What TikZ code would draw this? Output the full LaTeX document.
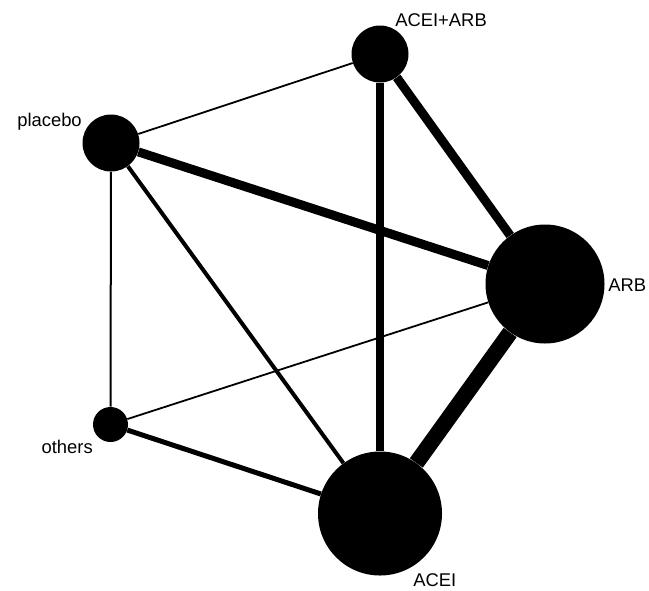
\documentclass[tikz,border=0pt]{standalone}
\usepackage{fontspec}
\setmainfont{Liberation Sans}
\begin{document}
\begin{tikzpicture}[x=0.75pt,y=-0.75pt,
  trt/.style={circle,fill=black,draw=none,inner sep=0pt},
  lbl/.style={inner sep=0pt,font=\fontsize{13.8pt}{16pt}\selectfont},
  link/.style={draw=black,line width=#1*0.75pt}]
\useasboundingbox (0,0) rectangle (649,590);

% treatments, sized by number of patients
\node[trt,minimum size=57pt*0.75] (aa)  at (380,54)  {};
\node[trt,minimum size=57pt*0.75] (pl)  at (111,143) {};
\node[trt,minimum size=119pt*0.75] (arb) at (545,284) {};
\node[trt,minimum size=35pt*0.75] (oth) at (110.5,424.5) {};
\node[trt,minimum size=124pt*0.75] (acei) at (380,513.5) {};

% comparisons, width by number of trials
\draw[link=1.8] (aa) -- (pl);
\draw[link=8]   (aa) -- (acei);
\draw[link=9]   (aa) -- (arb);
\draw[link=9]   (pl) -- (arb);
\draw[link=4]   (pl) -- (acei);
\draw[link=2]   (pl) -- (oth);
\draw[link=1.8] (oth) -- (arb);
\draw[link=5]   (oth) -- (acei);
\draw[link=16]  (arb) -- (acei);

% labels
\node[lbl,anchor=base west] (laa)   at (395,26)  {ACEI+ARB};
\node[lbl,anchor=base east] (lpl)   at (82,126)  {placebo};
\node[lbl,anchor=base west] (larb)  at (608,291) {ARB};
\node[lbl,anchor=base east] (loth)  at (93,453)  {others};
\node[lbl,anchor=base west] (lacei) at (413,586) {ACEI};
\end{tikzpicture}
\end{document}
